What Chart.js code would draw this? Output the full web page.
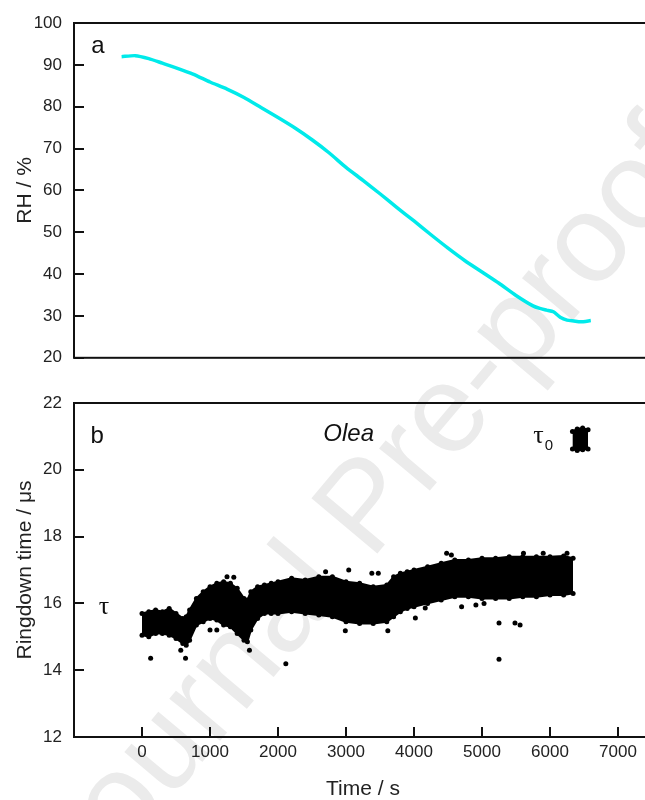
<!DOCTYPE html>
<html lang="en">
<head>
<meta charset="UTF-8">
<title>RH and ringdown time</title>
<script src="https://cdn.jsdelivr.net/npm/chart.js"></script>
<style>
  html, body { margin: 0; padding: 0; width: 645px; height: 800px; overflow: hidden; background: #fff; }
  #wm {
    position: absolute; left: 362px; top: 504px;
    transform: translate(-50%, -50%) rotate(-50deg);
    font: 125px "Liberation Sans", Arial, sans-serif; line-height: 1;
    color: #ebebeb; white-space: nowrap;
  }
  .box { position: absolute; left: 0; width: 670px; }
  #topBox { top: 0; height: 380px; }
  #bottomBox { top: 372px; height: 432px; }
</style>
</head>
<body>
<div id="wm">Journal Pre-proof</div>
<div class="box" id="topBox"><canvas id="rhChart"></canvas></div>
<div class="box" id="bottomBox"><canvas id="tauChart"></canvas></div>

<script>
// panel a : relative humidity
const rhTime  = [-300, -100, 100, 300, 500, 750, 1000, 1250, 1500, 1750, 2000, 2250, 2500, 2750, 3000,
                 3250, 3500, 3750, 4000, 4250, 4500, 4750, 5000, 5250, 5500, 5750, 5850, 5950, 6050,
                 6150, 6250, 6350, 6450, 6600];
const rhValue = [91.95, 92.2, 91.5, 90.4, 89.3, 87.8, 85.9, 84.2, 82.2, 79.8, 77.4, 74.9, 72.1, 69.0, 65.5,
                 62.4, 59.2, 55.9, 52.7, 49.4, 46.2, 43.2, 40.5, 37.8, 34.9, 32.4, 31.8, 31.4, 31.0,
                 29.7, 29.0, 28.8, 28.6, 28.9];

// panel b : ringdown time, edges of the dense cloud of points
const tauTime  = [0, 100, 200, 300, 400, 500, 600, 650, 700, 800, 900, 1000, 1100, 1200, 1300, 1400, 1500,
                  1550, 1600, 1700, 1800, 1900, 2000, 2200, 2400, 2600, 2800, 3000, 3200, 3400, 3600, 3700,
                  3800, 3900, 4000, 4200, 4400, 4600, 4800, 5000, 5200, 5400, 5600, 5800, 6000, 6200, 6340];
const tauUpper = [15.7, 15.75, 15.8, 15.75, 15.85, 15.7, 15.55, 15.6, 15.8, 16.15, 16.35, 16.5, 16.6, 16.65,
                  16.6, 16.45, 16.15, 16.1, 16.35, 16.5, 16.55, 16.6, 16.65, 16.75, 16.7, 16.8, 16.8, 16.65,
                  16.6, 16.5, 16.55, 16.8, 16.9, 16.95, 17.0, 17.1, 17.2, 17.3, 17.3, 17.35, 17.35, 17.4,
                  17.4, 17.4, 17.4, 17.42, 17.35];
const tauLower = [15.05, 15.0, 15.1, 15.1, 15.05, 14.95, 14.8, 14.75, 14.9, 15.35, 15.45, 15.55, 15.5, 15.35,
                  15.3, 15.1, 14.9, 14.85, 15.2, 15.55, 15.7, 15.7, 15.7, 15.75, 15.7, 15.65, 15.6, 15.45,
                  15.4, 15.4, 15.45, 15.6, 15.75, 15.85, 15.9, 16.0, 16.1, 16.2, 16.2, 16.15, 16.15, 16.15,
                  16.2, 16.2, 16.25, 16.25, 16.3];
// stray points outside the cloud
const strayTime  = [127, 640, 570, 1000, 1100, 1580, 2115, 2990, 3040, 3380, 3475, 3615, 4020, 4165, 4480,
                    4700, 4910, 5030, 5250, 5250, 5485, 5560, 5610, 1250, 1350, 2700, 4550, 5900, 6250];
const strayValue = [14.36, 14.36, 14.6, 15.2, 15.2, 14.6, 14.19, 15.18, 17.0, 16.9, 16.9, 15.18, 15.56, 15.86,
                    17.5, 15.9, 15.95, 16.0, 15.41, 14.33, 15.41, 15.35, 17.5, 16.8, 16.78, 16.95, 17.45,
                    17.5, 17.5];
// empty-cavity cluster (tau0)
const tau0Time  = [6330, 6400, 6480, 6560];
const tau0Upper = [21.15, 21.22, 21.25, 21.2];
const tau0Lower = [20.62, 20.58, 20.6, 20.62];

const xTicks   = [0, 1000, 2000, 3000, 4000, 5000, 6000, 7000];
const rhTicks  = [20, 30, 40, 50, 60, 70, 80, 90, 100];
const tauTicks = [12, 14, 16, 18, 20, 22];

const pts = (xs, ys) => xs.map((x, i) => ({x: x, y: ys[i]}));

Chart.defaults.font.family = '"Liberation Sans", Arial, sans-serif';
Chart.defaults.color = '#222';
Chart.defaults.animation = false;

// box round the plot area and short inward tick marks
const framePlugin = {
  id: 'frame',
  afterDatasetsDraw(chart, args, opts) {
    const {ctx, chartArea: a, scales} = chart;
    ctx.save();
    ctx.strokeStyle = '#111';
    ctx.lineWidth = 2;
    ctx.beginPath();
    scales.y.ticks.forEach(t => {
      const p = Math.round(scales.y.getPixelForValue(t.value));
      ctx.moveTo(a.left, p); ctx.lineTo(a.left + 10, p);
    });
    if (opts.xTicks) {
      scales.x.ticks.forEach(t => {
        const p = Math.round(scales.x.getPixelForValue(t.value));
        ctx.moveTo(p, a.bottom); ctx.lineTo(p, a.bottom - 10);
      });
    }
    ctx.stroke();
    ctx.strokeRect(a.left, a.top, a.right - a.left, a.bottom - a.top);
    ctx.restore();
  }
};

// free text placed in data coordinates
const notesPlugin = {
  id: 'notes',
  afterDatasetsDraw(chart, args, opts) {
    const {ctx, scales} = chart;
    ctx.save();
    ctx.fillStyle = '#111';
    ctx.textBaseline = 'middle';
    ctx.textAlign = 'center';
    (opts.items || []).forEach(n => {
      const x = scales.x.getPixelForValue(n.x);
      const y = scales.y.getPixelForValue(n.y);
      ctx.font = n.font;
      ctx.fillText(n.text, x, y);
      if (n.sub) {
        const w = ctx.measureText(n.text).width;
        ctx.font = n.subFont;
        ctx.textAlign = 'left';
        ctx.fillText(n.sub, x + w / 2 + 1, y + 9);
        ctx.textAlign = 'center';
      }
    });
    ctx.restore();
  }
};

const fixedTicks = list => scale => { scale.ticks = list.map(v => ({value: v})); };

const xScale = (showLabels) => ({
  type: 'linear',
  min: -1000, max: 7500,
  display: showLabels,
  afterBuildTicks: fixedTicks(xTicks),
  afterFit: s => { if (showLabels) s.height = 67; },
  grid: {display: false, drawTicks: false},
  border: {display: false},
  ticks: {font: {size: 17}, padding: 5, maxRotation: 0, callback: v => String(v)},
  title: {display: true, text: 'Time / s', font: {size: 21}, padding: {top: 0, bottom: 2}}
});

const yScale = (min, max, list, label) => ({
  type: 'linear',
  min: min, max: max,
  afterBuildTicks: fixedTicks(list),
  afterFit: s => { s.width = 74; },
  grid: {display: false, drawTicks: false},
  border: {display: false},
  ticks: {font: {size: 17}, padding: 12, callback: v => String(v)},
  title: {display: true, text: label, font: {size: 21}, padding: {top: 13, bottom: 0}}
});

new Chart(document.getElementById('rhChart'), {
  type: 'scatter',
  data: {
    datasets: [{
      data: pts(rhTime, rhValue),
      showLine: true,
      borderColor: '#00eaea',
      borderWidth: 3.5,
      pointRadius: 0,
      tension: 0.2
    }]
  },
  options: {
    responsive: true,
    maintainAspectRatio: false,
    // the y labels already keep ~22px free below the plot
    layout: {padding: {top: 23, right: 18, bottom: 0, left: 0}},
    scales: {
      x: xScale(false),
      y: yScale(20, 100, rhTicks, 'RH / %')
    },
    plugins: {
      legend: {display: false},
      tooltip: {enabled: false},
      frame: {xTicks: false},
      notes: {items: [{x: -650, y: 94.3, text: 'a', font: '24px "Liberation Sans", Arial, sans-serif'}]}
    }
  },
  plugins: [framePlugin, notesPlugin]
});

const dotStyle = {
  borderColor: '#000',
  backgroundColor: '#000',
  pointBackgroundColor: '#000',
  pointBorderColor: '#000',
  pointRadius: 2.5,
  pointBorderWidth: 0
};

new Chart(document.getElementById('tauChart'), {
  type: 'scatter',
  data: {
    datasets: [
      Object.assign({data: pts(tauTime, tauUpper), showLine: true, fill: '+1', borderWidth: 2}, dotStyle),
      Object.assign({data: pts(tauTime, tauLower), showLine: true, borderWidth: 2}, dotStyle),
      Object.assign({data: pts(tau0Time, tau0Upper), showLine: true, fill: '+1', borderWidth: 2}, dotStyle),
      Object.assign({data: pts(tau0Time, tau0Lower), showLine: true, borderWidth: 2}, dotStyle),
      Object.assign({data: pts(strayTime, strayValue)}, dotStyle)
    ]
  },
  options: {
    responsive: true,
    maintainAspectRatio: false,
    layout: {padding: {top: 31, right: 18, bottom: 0, left: 0}},
    scales: {
      x: xScale(true),
      y: yScale(12, 22, tauTicks, 'Ringdown time / \u03bcs')
    },
    plugins: {
      legend: {display: false},
      tooltip: {enabled: false},
      frame: {xTicks: true},
      notes: {items: [
        {x: -660, y: 21.0, text: 'b', font: '24px "Liberation Sans", Arial, sans-serif'},
        {x: 3040, y: 21.05, text: 'Olea', font: 'italic 24px "Liberation Sans", Arial, sans-serif'},
        {x: -558, y: 15.9, text: '\u03c4', font: '26px "Liberation Serif", "DejaVu Serif", serif'},
        {x: 5830, y: 21.0, text: '\u03c4', font: '26px "Liberation Serif", "DejaVu Serif", serif',
         sub: '0', subFont: '15px "Liberation Sans", Arial, sans-serif'}
      ]}
    }
  },
  plugins: [framePlugin, notesPlugin]
});
</script>
</body>
</html>
